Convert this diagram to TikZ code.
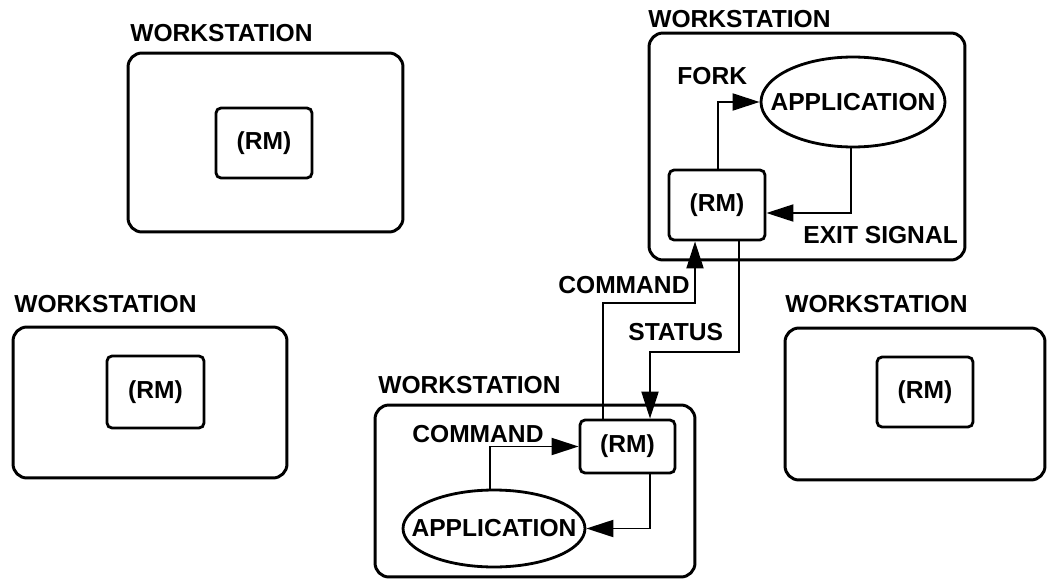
\documentclass[tikz,border=0pt]{standalone}
\usepackage{fontspec}
\setmainfont{Liberation Sans}
\usetikzlibrary{arrows.meta,shapes.geometric}

\begin{document}
\begin{tikzpicture}[x=0.02cm,y=-0.02cm,
	every node/.style={font=\bfseries\fontsize{14}{16}\selectfont},
	ws/.style={draw,line width=1.7pt,rounded corners=0.28cm,inner sep=0},
	rm/.style={draw,line width=1.6pt,rounded corners=0.1cm,inner sep=0,minimum width=1.92cm,minimum height=1.4cm},
	app/.style={draw,ellipse,line width=1.6pt,inner xsep=-0.45cm,inner ysep=0},
	txt/.style={anchor=base west,inner sep=0},
	arr/.style={line width=1.1pt,-{Triangle[length=0.54cm,width=0.34cm]}}]
		\useasboundingbox (0,0) rectangle (1047,581);
		
		% workstations
		\node [ws,minimum width=5.5cm,minimum height=3.58cm] (ws1) at (265.5,142.5) {};
		\node [txt] (ws1l) at (130,42) {WORKSTATION};
		\node [rm] (rm1) at (264,143) {(RM)};
		
		\node [ws,minimum width=6.32cm,minimum height=4.54cm] (ws2) at (807,146.5) {};
		\node [txt] (ws2l) at (648,28) {WORKSTATION};
		\node [rm] (rm2) at (717,205) {(RM)};
		\node [app,minimum width=3.68cm,minimum height=1.8cm] (appT) at (853,102) {APPLICATION};
		\node [txt] (fork) at (677,85) {FORK};
		\node [txt] (exit) at (803,243) {EXIT SIGNAL};
		
		\node [ws,minimum width=5.48cm,minimum height=3.02cm] (ws3) at (150,402.5) {};
		\node [txt] (ws3l) at (14,312) {WORKSTATION};
		\node [rm,minimum width=1.94cm,minimum height=1.44cm] (rm3) at (155.5,392) {(RM)};
		
		\node [ws,minimum width=5.2cm,minimum height=3.04cm] (ws4) at (915,404) {};
		\node [txt] (ws4l) at (785,312) {WORKSTATION};
		\node [rm] (rm4) at (925,392) {(RM)};
		
		\node [ws,minimum width=6.4cm,minimum height=3.44cm] (ws5) at (535,491) {};
		\node [txt] (ws5l) at (378,393) {WORKSTATION};
		\node [rm,minimum width=1.9cm,minimum height=1.06cm] (rm5) at (627.5,446.5) {(RM)};
		\node [app,minimum width=3.64cm,minimum height=1.54cm] (appB) at (494,528.5) {APPLICATION};
		\node [txt] (cmdB) at (412,442) {COMMAND};
		
		% between the two
		\node [txt] (cmd) at (558,293) {COMMAND};
		\node [txt] (status) at (628,340) {STATUS};
		\draw [arr] (rm5.north -| 603,0) |- (695,303) -- (rm2.south -| 695,0);
		\draw [arr] (rm2.south -| 739,0) |- (650,352) -- (rm5.north -| 650,0);
		
		% inside
		\draw [arr] (rm2.north -| 718,0) |- (appT.west);
		\draw [arr] (appT.south -| 851,0) |- (rm2.east |- 0,213);
		\draw [arr] (appB.north -| 490,0) |- (rm5.west);
		\draw [arr] (rm5.south -| 650,0) |- (appB.east);
\end{tikzpicture}
\end{document}
